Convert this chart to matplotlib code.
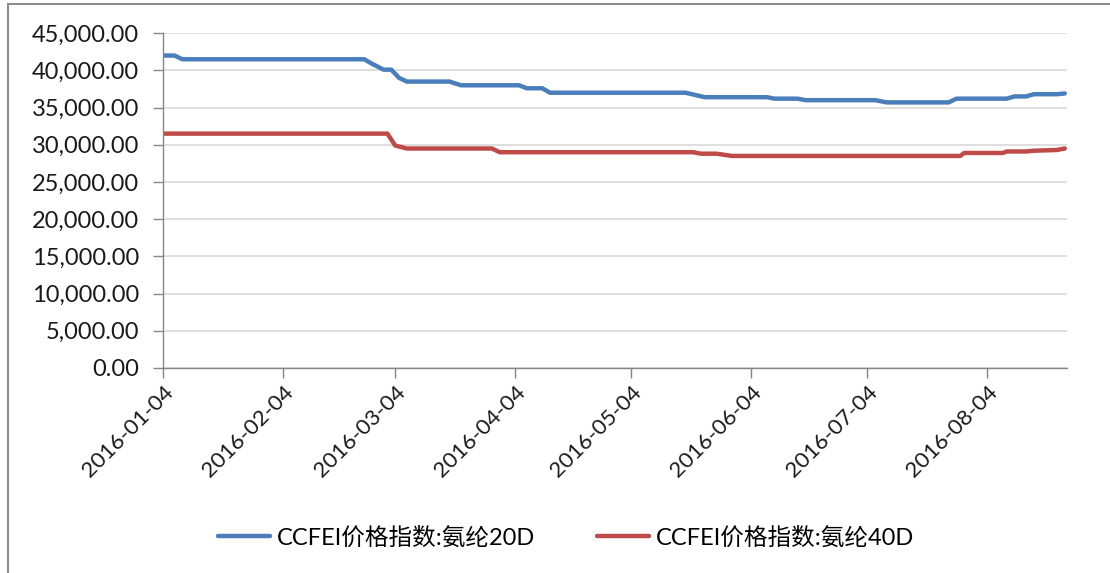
import numpy as np
import pandas as pd
import matplotlib
matplotlib.use('Agg')
import matplotlib.pyplot as plt
import matplotlib.dates as mdates
from matplotlib.ticker import FuncFormatter, MultipleLocator
from matplotlib.patches import Rectangle

plt.rcParams['font.family'] = ['Lato', 'Noto Sans CJK SC', 'DejaVu Sans']

# 氨纶20D 价格拐点
fechas_20d = ['2016-01-04', '2016-01-07', '2016-01-09', '2016-02-25', '2016-02-27',
              '2016-03-01', '2016-03-03', '2016-03-05', '2016-03-07', '2016-03-18',
              '2016-03-21', '2016-04-05', '2016-04-07', '2016-04-11', '2016-04-13',
              '2016-05-18', '2016-05-23', '2016-06-08', '2016-06-10', '2016-06-16',
              '2016-06-18', '2016-07-06', '2016-07-09', '2016-07-25', '2016-07-27',
              '2016-08-09', '2016-08-11', '2016-08-14', '2016-08-16', '2016-08-22',
              '2016-08-24']
valores_20d = [42000, 42000, 41500, 41500, 40900,
               40100, 40100, 39000, 38500, 38500,
               38000, 38000, 37600, 37600, 37000,
               37000, 36400, 36400, 36200, 36200,
               36000, 36000, 35700, 35700, 36200,
               36200, 36500, 36500, 36800, 36800,
               36900]

# 氨纶40D 价格拐点
fechas_40d = ['2016-01-04', '2016-03-02', '2016-03-04', '2016-03-07', '2016-03-29',
              '2016-03-31', '2016-05-20', '2016-05-22', '2016-05-26', '2016-05-30',
              '2016-07-28', '2016-07-29', '2016-08-08', '2016-08-09', '2016-08-14',
              '2016-08-16', '2016-08-22', '2016-08-24']
valores_40d = [31500, 31500, 29900, 29500, 29500,
               29000, 29000, 28800, 28800, 28500,
               28500, 28900, 28900, 29100, 29100,
               29200, 29300, 29500]

etiquetas = ['CCFEI价格指数:氨纶20D', 'CCFEI价格指数:氨纶40D']
ticks_x = ['2016-01-04', '2016-02-04', '2016-03-04', '2016-04-04',
           '2016-05-04', '2016-06-04', '2016-07-04', '2016-08-04']

azul = '#4a7ebb'
rojo = '#be4b48'
gris = '#868686'

fig = plt.figure(figsize=(11.1, 5.73), dpi=100)
ax = fig.add_axes([0.1468, 0.358, 0.8142, 0.584])

ax.plot(pd.to_datetime(fechas_20d), valores_20d, color=azul, lw=3.2,
        solid_capstyle='round', solid_joinstyle='round', label=etiquetas[0])
ax.plot(pd.to_datetime(fechas_40d), valores_40d, color=rojo, lw=3.2,
        solid_capstyle='round', solid_joinstyle='round', label=etiquetas[1])

ax.set_ylim(0, 45000)
ax.yaxis.set_major_locator(MultipleLocator(5000))
ax.yaxis.set_major_formatter(FuncFormatter(lambda v, p: f'{v:,.2f}'))
ax.set_xlim(pd.Timestamp(fechas_20d[0]), pd.Timestamp(fechas_20d[-1]) + pd.Timedelta(days=0.5))
ax.set_xticks(pd.to_datetime(ticks_x))
ax.xaxis.set_major_formatter(mdates.DateFormatter('%Y-%m-%d'))

ax.grid(axis='y', color='#d9d9d9', lw=1.2)
ax.set_axisbelow(True)
for lado in ['top', 'right']:
    ax.spines[lado].set_visible(False)
for lado in ['left', 'bottom']:
    ax.spines[lado].set_color(gris)
    ax.spines[lado].set_linewidth(1)

ax.tick_params(axis='both', colors=gris, length=7, width=1, labelcolor='#1a1a1a', labelsize=16)
ax.tick_params(axis='y', pad=10, labelsize=17)
plt.setp(ax.get_xticklabels(), rotation=45, ha='right', rotation_mode='anchor')

fig.legend(loc='center', bbox_to_anchor=(0.51, 0.062), ncol=2, frameon=False,
           fontsize=17, handlelength=2.2, handletextpad=0.3, columnspacing=2.6)

# borde del area del grafico
fig.patches.append(Rectangle((0.007, -0.01), 1.2, 1.003, transform=fig.transFigure,
                             fill=False, edgecolor='#8c8c8c', lw=1.5))

fig.savefig('out.png', dpi=100)
